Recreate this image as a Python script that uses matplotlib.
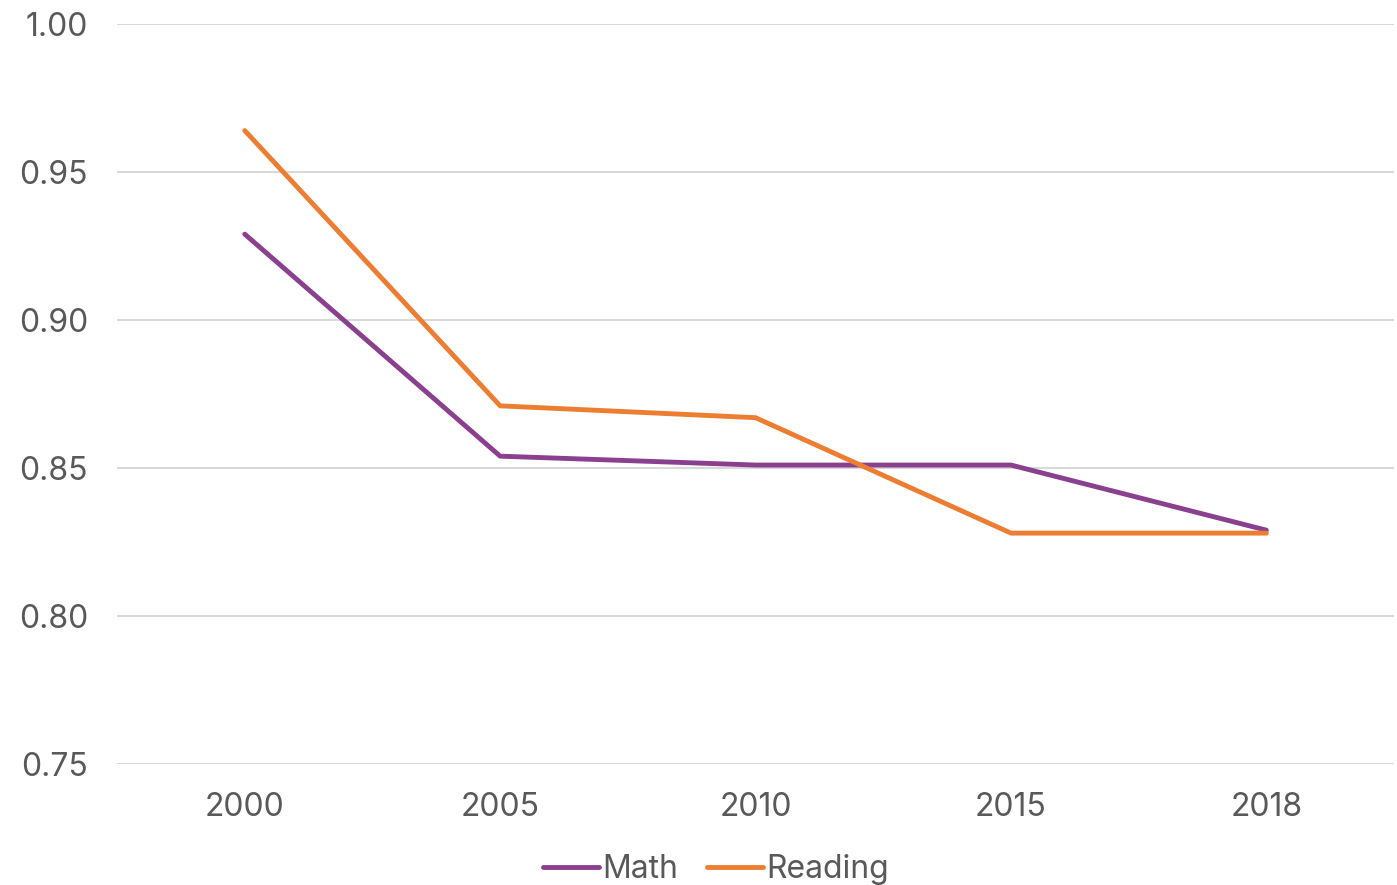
import matplotlib.pyplot as plt

years = ['2000', '2005', '2010', '2015', '2018']
math_vals = [0.929, 0.854, 0.851, 0.851, 0.829]
reading_vals = [0.964, 0.871, 0.867, 0.828, 0.828]

plt.rcParams['font.family'] = ['Inter', 'DejaVu Sans']

fig = plt.figure(figsize=(13.97, 8.85), dpi=100)
ax = fig.add_axes([0.0838, 0.1367, 0.9141, 0.8362])

x = range(len(years))
ax.plot(x, math_vals, color='#8B3F8F', linewidth=3.5, label='Math', solid_capstyle='round')
ax.plot(x, reading_vals, color='#ED7D31', linewidth=3.5, label='Reading', solid_capstyle='round')

ax.set_xlim(-0.5, len(years) - 0.5)
ax.set_ylim(0.75, 1.0)
ax.set_yticks([0.75, 0.80, 0.85, 0.90, 0.95, 1.00])
ax.set_yticklabels([f'{v:.2f}' for v in [0.75, 0.80, 0.85, 0.90, 0.95, 1.00]])
ax.set_xticks(list(x))
ax.set_xticklabels(years)
ax.tick_params(length=0, labelsize=23, labelcolor='#595959')
ax.tick_params(axis='y', pad=21)
ax.tick_params(axis='x', pad=20)
ax.grid(axis='y', color='#D9D9D9', linewidth=1.5)
ax.set_axisbelow(True)
for s in ax.spines.values():
    s.set_visible(False)

leg = fig.legend(loc='center', bbox_to_anchor=(0.5125, 0.017), ncol=2, frameon=False,
                 fontsize=23, handlelength=1.75, handletextpad=0.1, columnspacing=0.9)
for t in leg.get_texts():
    t.set_color('#595959')

fig.savefig('out.png', dpi=100)
